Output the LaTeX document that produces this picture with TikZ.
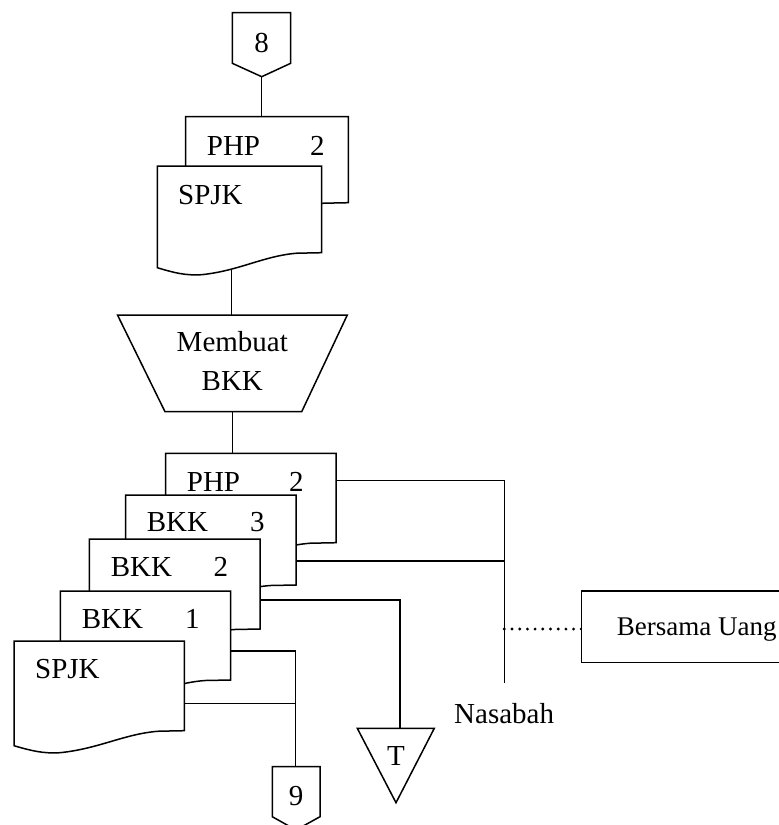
\documentclass[tikz,border=0pt]{standalone}
\usepackage{fontspec}
\setmainfont{Liberation Serif}
\begin{document}
% document symbol: left, top, right, bottom of the right edge
\newcommand{\docoutline}[4]{%
  \draw[docline] (#1,#2) -- (#3,#2) -- (#3,#4)
    -- ({#3-0.15*(#3-#1)},{#4+0.5})
    .. controls ({#1+0.65*(#3-#1)},{#4+3}) and ({#1+0.5*(#3-#1)},{#4+18}) .. ({#1+0.27*(#3-#1)},{#4+22})
    .. controls ({#1+0.17*(#3-#1)},{#4+23}) and ({#1+0.1*(#3-#1)},{#4+20}) .. (#1,{#4+15}) -- cycle;}
\begin{tikzpicture}[x=1pt,y=-1pt,
  docline/.style={draw=black,fill=white,line width=1.5pt,line join=miter},
  conn/.style={draw=black,line width=1.5pt},
  lbl/.style={inner sep=0pt,anchor=base west,font=\fontsize{29}{33}\selectfont},
  clbl/.style={inner sep=0pt,anchor=base,font=\fontsize{29}{33}\selectfont},
  dotline/.style={line width=3.2pt,line cap=round,dash pattern=on 0pt off 7.7pt}]
\useasboundingbox (0,0) rectangle (779,825);

% ---------- connection points ----------
\coordinate (c8out) at (261.7,70);
\coordinate (phpAin) at (261.7,120);
\coordinate (spjkAout) at (231.7,262);
\coordinate (procin) at (231.7,318);
\coordinate (procout) at (232.3,408);
\coordinate (phpBin) at (232.3,456);
\coordinate (phpBout) at (330,480.7);
\coordinate (nasTop) at (504.3,480.7);
\coordinate (nasBot) at (504.3,683.3);
\coordinate (bkk3out) at (290,561);
\coordinate (bkk3join) at (504.3,561);
\coordinate (bkk2out) at (255,600);
\coordinate (tcorner) at (400,600);
\coordinate (tin) at (400,732);
\coordinate (bkk1out) at (225,651);
\coordinate (ninecorner) at (295.7,651);
\coordinate (ninein) at (295.7,770);
\coordinate (spjkBout) at (180,703.3);
\coordinate (spjkBjoin) at (295.7,703.3);
\coordinate (dotA) at (504.3,629);
\coordinate (dotB) at (581.7,629);

% ---------- connectors ----------
\draw[conn] (c8out) -- (phpAin);
\draw[conn] (spjkAout) -- (procin);
\draw[conn] (procout) -- (phpBin);
\draw[conn] (phpBout) -- (nasTop) -- (nasBot);
\draw[conn] (bkk3out) -- (bkk3join);
\draw[conn] (bkk2out) -- (tcorner) -- (tin);
\draw[conn] (bkk1out) -- (ninecorner) -- (ninein);
\draw[conn] (spjkBout) -- (spjkBjoin);
\draw[dotline] (dotA) -- (dotB);

% ---------- off-page connector 8 ----------
\draw[docline] (232.3,12.7) -- (290.7,12.7) -- (290.7,63.3) -- (261.7,76.7) -- (232.3,63.3) -- cycle;
\node[clbl] (eight) at (261.5,52) {8};

% ---------- top documents ----------
\docoutline{185.7}{116.7}{348.3}{202.7}
\node[lbl] (phpA) at (206.7,155) {PHP};
\node[lbl] (phpAno) at (310,155) {2};
\docoutline{157.3}{166}{321.7}{252.7}
\node[lbl] (spjkA) at (178,204) {SPJK};

% ---------- manual process ----------
\draw[docline] (117.5,315) -- (347.3,315) -- (301.7,411.7) -- (165,411.7) -- cycle;
\node[clbl] (procA) at (232.3,351.7) {Membuat};
\node[clbl] (procB) at (232.3,390) {BKK};

% ---------- lower document stack ----------
\docoutline{165.7}{453.3}{336}{542.7}
\node[lbl] (phpB) at (186.7,491.7) {PHP};
\node[lbl] (phpBno) at (289,491.7) {2};
\docoutline{125.7}{495}{296}{585}
\node[lbl] (bkkC) at (146.7,531.7) {BKK};
\node[lbl] (bkkCno) at (250,531.7) {3};
\docoutline{89.3}{539}{260}{629}
\node[lbl] (bkkB) at (110.7,576) {BKK};
\node[lbl] (bkkBno) at (213.3,576) {2};
\docoutline{60.3}{591}{230.7}{680}
\node[lbl] (bkkA) at (81.7,628.3) {BKK};
\node[lbl] (bkkAno) at (185,628.3) {1};
\docoutline{14}{641}{184.3}{730.7}
\node[lbl] (spjkB) at (35,678.3) {SPJK};

% ---------- file T ----------
\draw[docline] (357.3,728.3) -- (434.3,728.3) -- (396,802.7) -- cycle;
\node[clbl] (tfile) at (396,765) {T};

% ---------- off-page connector 9 ----------
\draw[docline] (272.3,766.7) -- (320,766.7) -- (320,816.7) -- (296,830) -- (272.3,816.7) -- cycle;
\node[clbl] (nine) at (296,805) {9};

% ---------- customer ----------
\node[lbl] (nasabah) at (454,723.3) {Nasabah};
\draw[docline] (581.7,591) rectangle (800,662.7);
\node[lbl,font=\fontsize{27}{31}\selectfont] (uang) at (616.7,635) {Bersama Uang};
\end{tikzpicture}
\end{document}
